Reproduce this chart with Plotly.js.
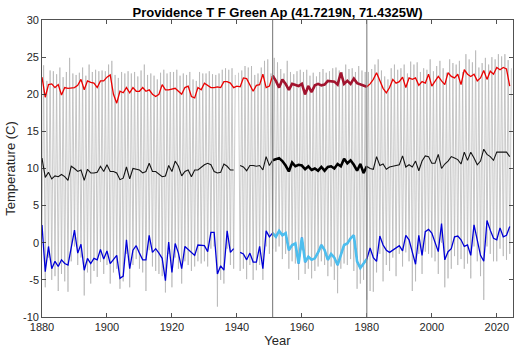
<!DOCTYPE html>
<html>
<head>
<meta charset="utf-8">
<script src="https://cdn.plot.ly/plotly-3.0.1.min.js"></script>
<style>html,body{margin:0;padding:0;background:#fff;}#chart{width:520px;height:353px;}</style>
</head>
<body>
<div id="chart"></div>
<script>
// ---- data ----
const firstYear = 1880;
const lastYear = 2024;
const periodStart = 1951;
const periodEnd = 1980;

// summer mean temperature (red), 1880-2024
const summerMean = [
  22.3,19.6,21.3,21.4,20.9,21.3,19.9,20.9,20.8,20.9,
  20.9,21.2,22.0,20.6,21.8,21.6,21.5,20.9,21.8,21.8,
  22.3,22.6,20.0,18.8,20.4,20.2,20.9,20.2,20.9,20.4,
  20.4,20.9,20.4,20.6,20.0,19.7,20.0,21.3,20.6,20.6,
  20.7,20.8,20.4,20.0,20.9,21.1,19.7,19.5,20.9,20.6,
  21.5,21.2,20.9,20.9,21.0,20.9,21.7,21.7,21.5,20.9,
  21.1,21.0,22.2,22.1,21.3,20.4,21.2,21.3,22.7,20.9,
  21.1,
  22.5,21.8,20.9,22.0,21.4,20.6,21.4,21.2,21.1,21.4,
  20.0,21.1,20.3,21.2,21.4,21.2,21.3,21.8,21.8,21.7,
  21.3,22.9,21.4,21.8,21.4,22.1,21.5,21.3,21.1,21.0,
  21.4,22.0,22.9,21.8,20.8,20.2,20.9,22.0,21.5,21.7,
  22.3,20.9,22.2,22.0,22.2,21.2,21.7,21.5,22.7,21.1,
  21.8,22.4,21.8,21.3,22.9,22.4,22.2,22.7,21.3,23.3,
  22.7,22.4,22.7,21.8,22.2,23.2,22.0,23.1,22.7,23.6,
  23.3,23.6,23.4,21.1
];

// annual mean temperature (black), 1880-2024
const annualMean = [
  11.4,8.8,9.5,8.6,9.0,8.9,9.2,8.9,8.4,10.3,
  10.0,9.6,9.8,8.4,9.9,9.4,9.4,9.5,10.3,9.6,
  10.5,9.6,9.6,9.4,8.5,8.7,10.2,8.6,10.0,9.9,
  9.8,9.4,9.6,10.7,9.6,9.6,9.2,8.9,9.0,10.4,
  9.6,11.0,10.3,9.0,9.6,9.8,8.9,9.8,9.8,10.2,
  10.5,10.7,10.5,9.6,9.4,9.5,10.6,10.3,9.8,9.8,
  null,10.4,10.2,9.7,10.4,10.4,10.3,10.4,9.8,11.6,
  10.4,
  11.1,11.3,11.4,11.0,10.4,9.6,10.8,10.3,10.5,10.4,
  9.9,10.3,9.8,10.0,9.7,10.2,9.7,10.2,10.3,10.0,
  10.6,10.3,11.3,10.7,11.1,10.5,9.7,10.6,9.4,10.3,
  10.0,9.9,11.6,10.4,10.6,9.9,10.2,10.3,10.4,10.5,
  11.7,10.2,10.5,10.2,11.0,9.7,11.0,11.7,11.6,10.7,
  10.7,11.9,10.0,10.6,11.0,11.6,11.4,11.2,10.6,12.2,
  11.1,12.2,11.4,10.5,11.0,12.6,11.9,11.6,11.1,12.2,
  12.2,12.2,12.2,11.6
];

// winter mean temperature (blue), 1880-2024
const winterMean = [
  2.4,-3.9,-0.5,-3.5,-2.5,-3.2,-2.3,-2.8,-3.0,-0.5,
  1.7,-1.4,-0.2,-3.7,-2.1,-2.8,-2.1,-2.3,-0.9,-2.2,
  -1.1,-2.8,-2.3,-1.7,-4.8,-4.5,0.4,-3.5,-1.0,-0.4,
  -1.4,-2.3,-2.3,1.0,-1.3,-0.8,-1.4,-2.1,-5.1,0.1,
  -4.0,-0.1,-1.4,-3.5,-0.5,-0.9,-1.4,-1.7,-0.3,-0.3,
  -0.4,-1.2,1.4,1.4,-4.2,-3.1,-3.7,1.6,-1.3,-0.8,
  null,-1.3,-1.5,-2.3,-1.4,-2.6,-2.6,-0.5,-3.5,1.6,
  0.8,
  1.3,0.8,1.6,1.0,1.3,-1.0,-0.3,-0.1,-2.8,0.7,
  -2.6,-1.9,-2.3,-2.1,-1.3,-0.3,-1.0,-2.3,-1.5,-2.0,
  -3.0,-1.7,-0.3,-0.1,0.6,1.0,-2.5,-3.4,-2.8,-2.2,
  -0.7,-2.0,-2.5,0.9,-0.3,-1.0,-1.3,-1.0,-0.8,-0.4,
  -1.1,1.0,0.4,-1.4,-2.9,1.0,-1.7,1.5,1.8,1.3,
  0.1,-1.2,2.6,-2.3,-1.2,-0.8,0.8,0.9,0.4,-0.5,
  -0.3,-1.7,2.4,0.4,-1.7,-2.5,3.0,1.7,0.6,0.4,
  2.0,0.8,1.0,2.2
];

// warmest-month (July) monthly temperature, 1880-2024 (gray peaks)
const monthlyPeak = [
  23.9,21.8,23.2,23.1,22.7,23.6,22.3,23.0,24.9,22.8,
  22.6,22.9,23.6,22.5,24.0,23.0,23.3,23.1,23.2,23.1,
  24.0,24.5,22.6,22.2,23.0,22.8,23.1,22.8,23.0,22.4,
  23.2,24.0,22.6,22.8,22.5,22.0,22.9,23.3,22.8,23.0,
  23.0,23.3,22.5,22.8,22.6,23.0,22.0,21.8,23.0,22.8,
  22.8,23.1,22.7,22.6,22.8,23.3,23.5,23.3,23.5,22.6,
  22.9,23.2,23.8,23.6,23.8,22.6,22.8,23.6,24.5,24.7,
  22.8,
  24.9,24.3,23.4,22.8,24.5,23.0,22.7,23.1,23.3,23.0,
  23.3,22.5,22.9,22.4,23.0,23.4,22.9,23.1,23.5,23.6,
  23.2,23.0,24.0,23.4,23.5,23.0,23.8,23.2,23.0,23.0,
  23.4,24.0,24.7,23.2,22.4,22.0,23.5,24.0,23.3,23.5,
  24.0,22.8,24.4,24.0,24.3,23.0,23.5,23.3,24.7,23.1,
  23.8,24.5,23.5,22.9,24.7,24.2,24.0,24.5,23.0,25.4,
  24.7,24.3,25.9,23.6,24.2,24.9,24.0,25.0,24.7,25.4,
  25.1,25.4,24.6,23.5
];

// coldest-month (January) monthly temperature, 1880-2024 (gray troughs)
const monthlyTrough = [
  0.5,-6.0,-2.0,-5.0,-4.5,-6.5,-4.2,-5.2,-6.6,-2.5,
  -0.5,-3.0,-2.0,-7.1,-4.0,-5.5,-3.8,-4.6,-2.6,-4.2,
  -3.0,-5.5,-4.0,-3.5,-6.2,-5.2,-1.5,-6.0,-3.0,-2.2,
  -3.5,-4.0,-6.5,-1.0,-3.2,-3.8,-4.2,-4.5,-6.7,-1.5,
  -6.0,-2.0,-3.5,-5.5,-2.5,-3.0,-3.8,-3.2,-2.5,-2.8,
  -2.5,-3.2,-0.8,-0.5,-8.6,-5.0,-5.5,-0.8,-3.0,-3.5,
  null,-3.8,-3.5,-4.9,-3.0,-5.0,-3.7,-3.0,-5.0,-0.5,
  -1.5,
  -0.8,-1.2,-0.5,-2.2,-1.5,-3.5,-2.5,-2.8,-5.0,-1.0,
  -4.2,-3.5,-4.8,-3.8,-3.2,-2.5,-3.0,-4.5,-3.2,-5.0,
  -6.8,-3.5,-2.8,-3.0,-2.2,-3.8,-6.2,-5.5,-5.0,-7.7,
  -6.5,-6.6,-4.0,-1.5,-5.2,-3.0,-3.8,-2.0,-4.5,-1.5,
  -3.2,-1.3,-2.5,-6.5,-5.2,-1.5,-4.2,-1.2,-1.5,-2.0,
  -2.5,-4.2,0.0,-6.0,-4.8,-3.5,-1.8,-3.0,-2.2,-3.5,
  -2.8,-4.8,-0.5,-2.5,-4.5,-7.7,-0.5,-1.5,-2.5,-2.5,
  -0.8,-1.8,-2.3,-1.5
];

const xTickVals = [1880,1900,1920,1940,1960,1980,2000,2020];
const yTickVals = [-10,-5,0,5,10,15,20,25,30];
const titleText = 'Providence T F Green Ap (41.7219N, 71.4325W)';

// ---- build traces ----
const years = [];
for (let y = firstYear; y <= lastYear; y++) years.push(y);

const gx = [], gy = [];
years.forEach((yr, i) => {
  gx.push(yr); gy.push(monthlyTrough[i]);
  gx.push(yr + 0.5); gy.push(monthlyPeak[i]);
});

function inPeriod(arr) {
  const xs = [], ys = [];
  years.forEach((yr, i) => {
    if (yr >= periodStart && yr <= periodEnd) { xs.push(yr); ys.push(arr[i]); }
  });
  return {x: xs, y: ys};
}

const traces = [
  {x: gx, y: gy, type: 'scatter', mode: 'lines', line: {color: 'rgb(178,178,178)', width: 0.7}, connectgaps: false, hoverinfo: 'skip'},
  {x: years, y: summerMean, type: 'scatter', mode: 'lines', line: {color: 'rgb(235,0,0)', width: 1.3}},
  {x: years, y: annualMean, type: 'scatter', mode: 'lines', line: {color: 'rgb(20,20,20)', width: 1.1}, connectgaps: false},
  {x: years, y: winterMean, type: 'scatter', mode: 'lines', line: {color: 'rgb(0,0,215)', width: 1.3}, connectgaps: false}
];
const pr = inPeriod(summerMean), pb = inPeriod(annualMean), pw = inPeriod(winterMean);
traces.push({x: pr.x, y: pr.y, type: 'scatter', mode: 'lines', line: {color: 'rgb(162,20,47)', width: 2.6}});
traces.push({x: pb.x, y: pb.y, type: 'scatter', mode: 'lines', line: {color: 'rgb(0,0,0)', width: 2.6}});
traces.push({x: pw.x, y: pw.y, type: 'scatter', mode: 'lines', line: {color: 'rgb(77,190,238)', width: 2.6}});

const axisFont = {family: 'Liberation Sans, Arial, sans-serif', size: 11, color: '#262626'};

const layout = {
  width: 520, height: 353,
  margin: {l: 42, r: 7, t: 20, b: 36},
  paper_bgcolor: '#fff', plot_bgcolor: '#fff',
  showlegend: false,
  title: {text: '<b>' + titleText + '</b>', font: {family: 'Liberation Sans, Arial, sans-serif', size: 13, color: '#000'},
          x: 0.5, xref: 'paper', xanchor: 'center', y: 1 - 12/353, yref: 'container', yanchor: 'middle'},
  xaxis: {
    range: [1880, 2025], tickvals: xTickVals, ticktext: xTickVals.map(String),
    ticks: 'inside', ticklen: 4, tickcolor: '#262626', tickwidth: 0.8,
    showline: true, linecolor: '#262626', linewidth: 0.8, mirror: 'ticks',
    showgrid: false, zeroline: false, tickfont: axisFont,
    title: {text: 'Year', font: {family: 'Liberation Sans, Arial, sans-serif', size: 13, color: '#262626'}, standoff: 2},
    automargin: false
  },
  yaxis: {
    range: [-10, 30], tickvals: yTickVals, ticktext: yTickVals.map(String),
    ticks: 'inside', ticklen: 4, tickcolor: '#262626', tickwidth: 0.8,
    showline: true, linecolor: '#262626', linewidth: 0.8, mirror: 'ticks',
    showgrid: false, zeroline: false, tickfont: axisFont,
    title: {text: 'Temperature (C)', font: {family: 'Liberation Sans, Arial, sans-serif', size: 13, color: '#262626'}, standoff: 4},
    automargin: false
  },
  shapes: [periodStart, periodEnd].map(v => ({
    type: 'line', xref: 'x', yref: 'paper', x0: v, x1: v, y0: 0, y1: 1,
    line: {color: 'rgb(128,128,128)', width: 1.1}, layer: 'above'
  }))
};

Plotly.newPlot('chart', traces, layout, {displayModeBar: false, staticPlot: true});
</script>
</body>
</html>
